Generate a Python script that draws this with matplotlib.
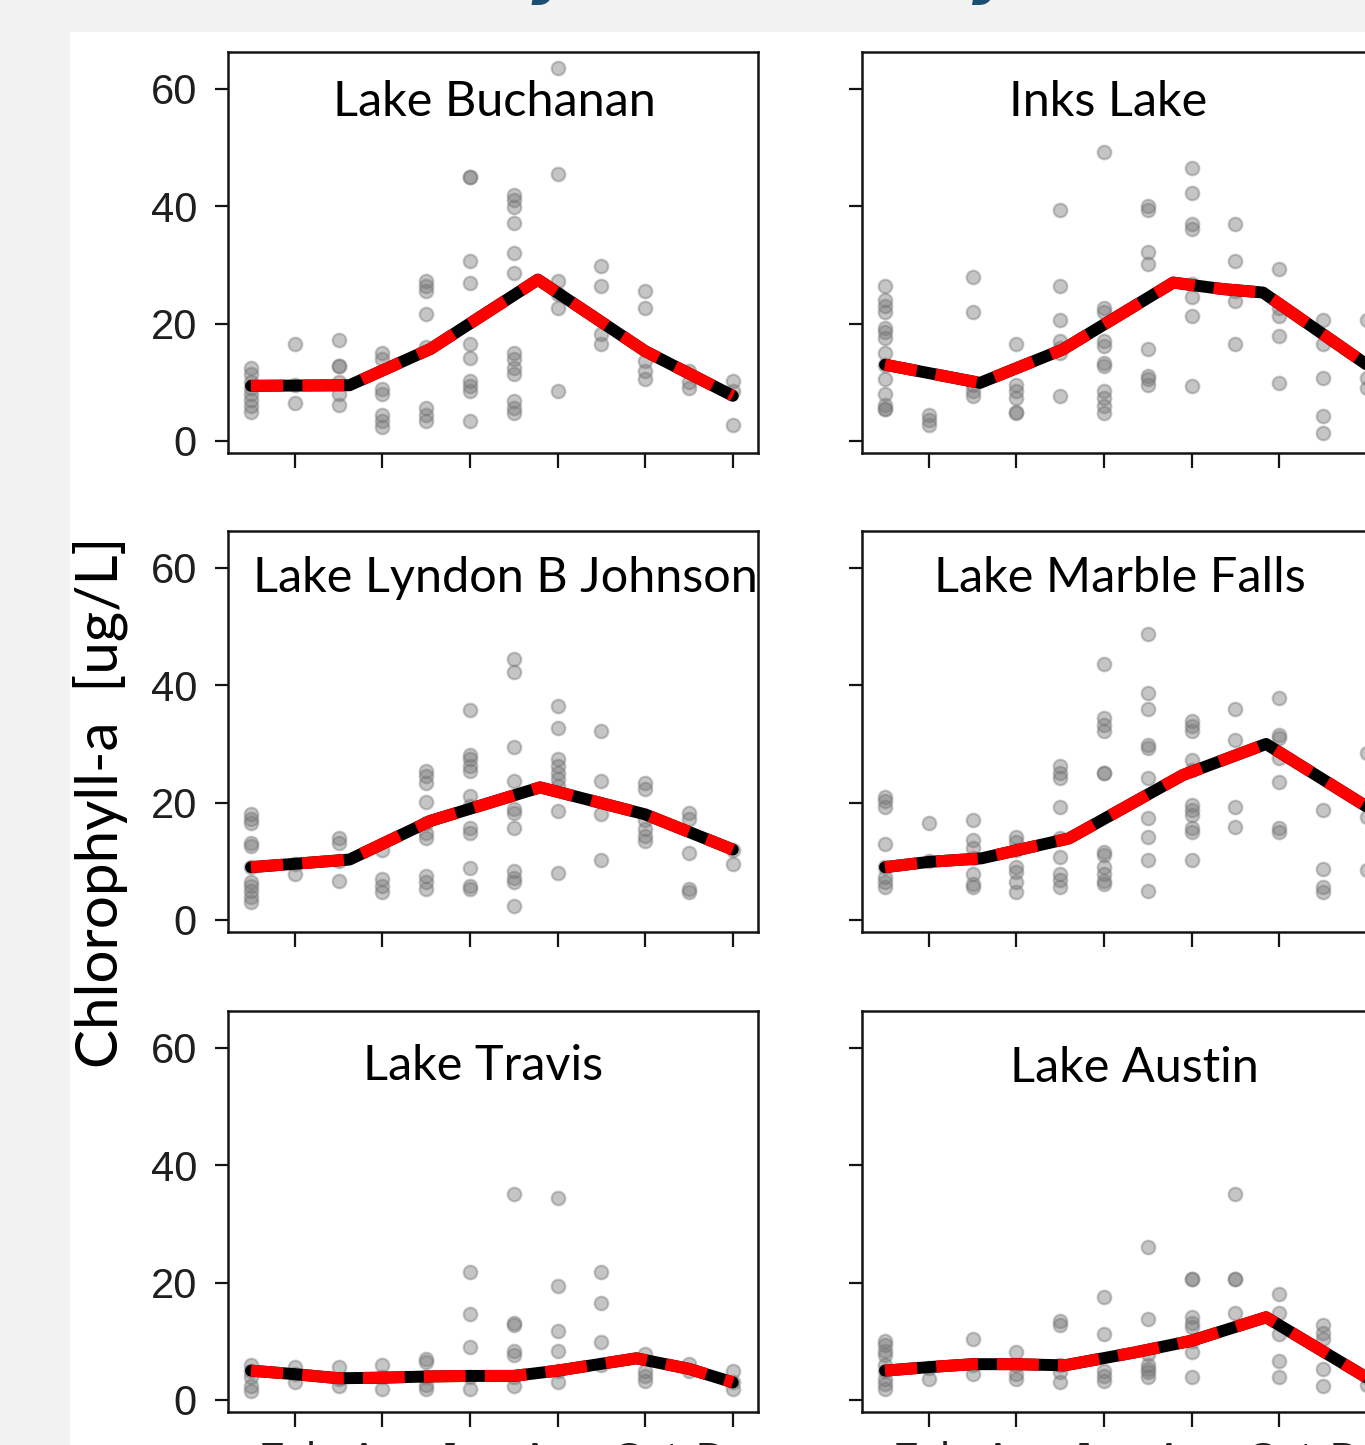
import numpy as np
import matplotlib
matplotlib.use('Agg')
import matplotlib.pyplot as plt
from matplotlib.font_manager import FontProperties
from matplotlib.patches import Rectangle

# month axis
months = np.arange(1, 13)
tick_months = [2, 4, 6, 8, 10, 12]
tick_labels = ['Feb', 'Apr', 'Jun', 'Aug', 'Oct', 'Dec']
y_ticks = [0, 20, 40, 60]

# samples per month (Jan..Dec)
buchanan_pts = [
    [12.5, 11.5, 10, 9, 8, 7, 6, 5],
    [16.5, 9.5, 6.5],
    [17.2, 12.8, 12.8, 10, 8, 6.2],
    [15, 14, 8.8, 8, 4.5, 3.4, 2.3],
    [27.3, 26.4, 25.5, 21.6, 16, 5.7, 4.5, 3.4],
    [45, 45, 30.7, 27, 16.5, 14.2, 10.2, 9.4, 8.5, 3.4],
    [42, 41, 39.8, 37.2, 32, 28.7, 15, 14, 12.5, 11.4, 6.8, 5.7, 4.8],
    [63.5, 45.5, 27.3, 25, 22.7, 8.5],
    [29.8, 26.4, 18.2, 16.5],
    [25.6, 22.7, 13.6, 12, 10.5],
    [12, 10, 9.1],
    [10.2, 8.5, 2.8],
]
buchanan_line_x = [1, 3.25, 5.1, 7.55, 10, 12]
buchanan_line_y = [9.4, 9.5, 15.7, 27.5, 15.3, 7.7]

inks_pts = [
    [26.5, 24, 23, 22, 19.3, 18.5, 17.5, 15, 13, 10.5, 8, 6.2, 5.5, 5.5],
    [4.5, 3.5, 2.8],
    [27.9, 22, 9.5, 8.5, 7.6],
    [16.5, 9.6, 8.5, 7.3, 5, 4.7],
    [39.3, 26.5, 20.6, 17, 15.9, 15, 7.6],
    [49.3, 22.7, 21.9, 17, 16.2, 13.3, 12.7, 8.5, 7.3, 5.9, 4.7],
    [40, 39.3, 32.2, 30.2, 15.6, 11, 10.5, 9.6],
    [46.5, 42.2, 37, 36.2, 26.7, 24.5, 21.3, 9.3],
    [37, 30.7, 25.6, 23.9, 16.5],
    [29.3, 22.7, 21.3, 17.9, 9.9],
    [20.7, 16.5, 10.7, 4.2, 1.3],
    [20.7, 10.7, 9],
]
inks_line_x = [1, 3.17, 5.06, 7.58, 8.7, 9.63, 12]
inks_line_y = [13, 9.9, 15.6, 27, 25.9, 25.3, 13]

lbj_pts = [
    [18, 17.2, 16.5, 13.2, 12.6, 9, 6.4, 5.8, 5, 4, 3],
    [9.5, 7.8],
    [14, 13.2, 10, 6.6],
    [12, 6.9, 5.8, 4.7],
    [25.4, 24.5, 23.4, 20.1, 16.6, 14.9, 14, 7.5, 6.4, 5.2],
    [35.8, 28.2, 27.4, 26.3, 25.4, 21.1, 19.4, 15.7, 14.9, 8.9, 5.8, 5.2],
    [44.4, 42.2, 29.4, 23.7, 18.9, 18.3, 15.7, 8.4, 7.2, 6.4, 2.4],
    [36.5, 32.8, 27.4, 26.3, 25.1, 24, 22.8, 18.6, 8],
    [32.2, 23.7, 18, 10.3],
    [23.4, 22.3, 17, 15.5, 14.3, 13.5],
    [18.3, 17.2, 11.5, 5.2, 4.7],
    [12, 9.5],
]
lbj_line_x = [1, 3.25, 5.1, 7.6, 10, 12]
lbj_line_y = [9, 10.3, 16.9, 22.6, 18, 12]

marble_pts = [
    [21, 20.2, 19.3, 13, 9, 7.3, 6.5, 5.6],
    [16.5, 10],
    [17.1, 13.6, 12.2, 10.5, 7.9, 6.2, 5.6],
    [14.2, 13.3, 11.9, 9, 8.2, 6.5, 4.7],
    [26.2, 25, 24.2, 19.3, 13.9, 10.7, 7.9, 6.8, 5.6],
    [43.6, 34.5, 33.3, 32.2, 25, 25, 11.6, 11, 9, 7.9, 6.7, 6.2],
    [48.7, 38.7, 35.9, 29.9, 29.3, 24.2, 17.3, 14.2, 10.2, 5],
    [33.9, 33, 32.2, 27.3, 25.6, 19.6, 18.7, 17.9, 15.6, 15, 10.2],
    [35.9, 30.7, 19.3, 15.9],
    [37.9, 31.6, 31, 27.6, 23.6, 15.6, 15],
    [18.7, 8.7, 5.6, 4.7],
    [28.5, 17.6, 8.5],
]
marble_line_x = [1, 2, 3.2, 5.2, 7.8, 9.7, 12]
marble_line_y = [9, 9.9, 10.5, 13.9, 24.7, 30, 19.3]

travis_pts = [
    [5.9, 5, 4, 2.4, 1.6],
    [5.6, 4.4, 3],
    [5.6, 3.6, 2.4],
    [5.9, 4, 1.9],
    [7, 6.4, 4, 2.5, 1.9],
    [21.8, 14.7, 9, 4, 1.9],
    [35.1, 13.2, 12.7, 8.4, 7.6, 4, 2.4],
    [34.5, 19.5, 11.8, 8.4, 5, 3],
    [21.8, 16.6, 9.8, 6],
    [7.8, 5, 4.1, 3.3],
    [6.1, 5],
    [5, 3, 1.9],
]
travis_line_x = [1, 2, 3, 4, 5, 6, 7, 8, 9.8, 11, 12]
travis_line_y = [5, 4.4, 3.7, 3.8, 4, 4.1, 4.1, 5, 7.1, 5.3, 3]

austin_pts = [
    [10.1, 9.3, 8.4, 7.6, 6, 5, 3.6, 2.7, 1.9],
    [5.5, 3.6],
    [10.4, 6, 4.4],
    [8.1, 6, 4.4, 3.6],
    [13.5, 12.7, 6, 4.7, 3],
    [17.5, 11.3, 5, 4.1, 3.3],
    [26, 13.8, 7.8, 5.9, 5.3, 4.7, 3.9],
    [20.6, 20.6, 14.1, 13.2, 12.4, 10, 8.1, 3.9],
    [35.1, 20.6, 20.6, 14.9],
    [18.1, 14.9, 11.3, 6.7, 3.9],
    [12.7, 11.5, 10.4, 5.3, 2.4],
    [4, 2.5],
]
austin_line_x = [1, 2, 3, 4, 5.1, 6.7, 8, 9.7, 12]
austin_line_y = [5, 5.6, 6.1, 6.1, 5.9, 8.1, 10.1, 14.1, 3.8]

lake_names = ['Lake Buchanan', 'Inks Lake', 'Lake Lyndon B Johnson',
              'Lake Marble Falls', 'Lake Travis', 'Lake Austin']

W, H = 1365, 1445
fig = plt.figure(figsize=(W / 100, H / 100), dpi=100)
fig.patch.set_facecolor('#f2f2f2')
fig.patches.append(Rectangle((70 / W, 0), 1 - 70 / W, (H - 32) / H,
                             transform=fig.transFigure, facecolor='white',
                             edgecolor='none', zorder=-10))

panels = [
    (buchanan_pts, buchanan_line_x, buchanan_line_y),
    (inks_pts, inks_line_x, inks_line_y),
    (lbj_pts, lbj_line_x, lbj_line_y),
    (marble_pts, marble_line_x, marble_line_y),
    (travis_pts, travis_line_x, travis_line_y),
    (austin_pts, austin_line_x, austin_line_y),
]

col_left = [228, 862]
row_top = [52, 531, 1011]
ax_w, ax_h = 530, 401
title_pos = [(494, 102), (1108, 102), (505, 578), (1120, 578), (483, 1066), (1134, 1068)]
tick_font = 'Liberation Sans'

for i, (pts, lx, ly) in enumerate(panels):
    r, c = divmod(i, 2)
    ax = fig.add_axes([col_left[c] / W, 1 - (row_top[r] + ax_h) / H, ax_w / W, ax_h / H])
    ax.set_facecolor('white')
    xs = np.repeat(months, [len(v) for v in pts])
    ys = np.concatenate(pts)
    ax.scatter(xs, ys, s=95, color='#767676', alpha=0.42, linewidths=1.6, zorder=2)
    ax.plot(lx, ly, color='black', lw=8.6, solid_joinstyle='round',
            solid_capstyle='round', zorder=3)
    ax.plot(lx, ly, color='#ff0000', lw=8.6, linestyle=(0.8, (3.5, 1.6)), zorder=4)
    ax.set_xlim(0.475, 12.575)
    ax.set_ylim(-2.05, 66.3)
    ax.set_xticks(tick_months)
    ax.set_yticks(y_ticks)
    for sp in ax.spines.values():
        sp.set_linewidth(1.8)
        sp.set_color('#141414')
    ax.tick_params(axis='y', length=9.4, width=1.6, color='#141414', pad=13,
                   labelsize=30, labelcolor='#1f1f1f', labelleft=(c == 0))
    ax.tick_params(axis='x', length=11, width=1.6, color='#141414', pad=10,
                   labelsize=30, labelcolor='#1f1f1f', labelbottom=(r == 2))
    ax.set_xticklabels(tick_labels)
    for lab in ax.get_xticklabels() + ax.get_yticklabels():
        lab.set_family(tick_font)
    tx, ty = title_pos[i]
    ax.text(tx / W, 1 - ty / H, lake_names[i], transform=fig.transFigure,
            ha='center', va='center', fontsize=35, family='Lato', color='black')

fig.text(100 / W, 1 - 802 / H, 'Chlorophyll-a  [ug/L]', rotation=90,
         ha='center', va='center', fontsize=42, family='Lato', color='black')

# slide title, only the descenders show above the white panel
title_text = 'Seasonality Patterns by Lake'
renderer = fig.canvas.get_renderer()
fp = FontProperties(family='DejaVu Sans', weight='bold', style='italic', size=40)


def tw(s, prop):
    return renderer.get_text_width_height_descent(s, prop, ismath=False)


i1 = title_text.index('y')
i2 = title_text.rindex('y')
yw = tw('y', fp)[0]
p1 = tw(title_text[:i1], fp)[0] + yw / 2
p2 = tw(title_text[:i2], fp)[0] + yw / 2
fp.set_size(40 * 440 / (p2 - p1))
yw = tw('y', fp)[0]
p1 = tw(title_text[:i1], fp)[0] + yw / 2
desc = tw('y', fp)[2]
x0 = 551 - p1 + 0.1 * desc
base = 5 - desc
fig.text(x0 / W, 1 - base / H, title_text, fontproperties=fp, color='#1b4f72',
         ha='left', va='baseline', zorder=-20)

fig.savefig('out.png', dpi=100, facecolor=fig.get_facecolor())
